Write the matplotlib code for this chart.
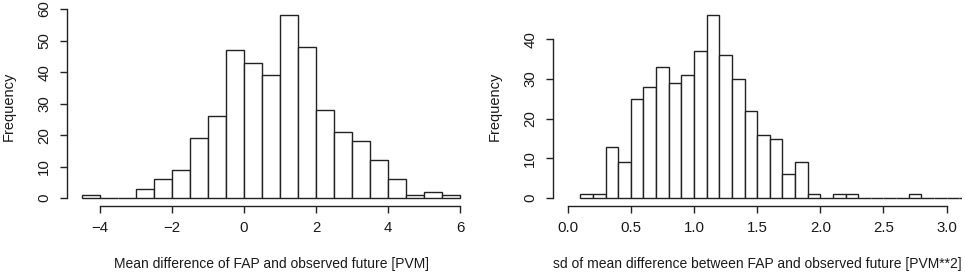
import matplotlib
matplotlib.use("Agg")
import matplotlib.pyplot as plt
import numpy as np

plt.rcParams['font.family'] = ['Liberation Sans', 'DejaVu Sans']

# Left histogram: mean difference, bin width 0.5
mean_edges = np.arange(-4.5, 6.01, 0.5)
mean_counts = [1, 0, 0, 3, 6, 9, 19, 26, 47, 43, 39, 58, 48, 28, 21, 18, 12, 6, 1, 2, 1]
mean_ticks = [-4, -2, 0, 2, 4, 6]
mean_yticks = [0, 10, 20, 30, 40, 50, 60]

# Right histogram: sd of mean difference, bin width 0.1
sd_edges = np.round(np.arange(0.1, 3.21, 0.1), 2)
sd_counts = [1, 1, 13, 9, 25, 28, 33, 29, 31, 37, 46, 36, 30, 22, 16, 15, 6, 9, 1,
             0, 1, 1, 0, 0, 0, 0, 1, 0, 0, 0, 0]
sd_ticks = [0.0, 0.5, 1.0, 1.5, 2.0, 2.5, 3.0]
sd_yticks = [0, 10, 20, 30, 40]

W, H = 965, 274
fig = plt.figure(figsize=(W / 100, H / 100), dpi=100)


def r_hist(px_left, px_right, edges, counts, xlim, ylim, xticks, yticks, xlabels, xlabel):
    top, bottom = 8.0, 205.5
    ax = fig.add_axes([px_left / W, 1 - bottom / H, (px_right - px_left) / W, (bottom - top) / H])
    ax.hist(edges[:-1], bins=edges, weights=counts, facecolor='white',
            edgecolor='#222222', linewidth=1.0)
    ax.set_xlim(*xlim)
    ax.set_ylim(*ylim)
    for s in ['top', 'right']:
        ax.spines[s].set_visible(False)
    ax.spines['bottom'].set_bounds(xticks[0], xticks[-1])
    ax.spines['left'].set_bounds(yticks[0], yticks[-1])
    for s in ['bottom', 'left']:
        ax.spines[s].set_color('#222222')
        ax.spines[s].set_linewidth(1.0)
    ax.set_xticks(xticks)
    ax.set_xticklabels(xlabels)
    ax.set_yticks(yticks)
    ax.set_yticklabels([str(v) for v in yticks], rotation=90, va='center')
    ax.tick_params(direction='out', length=5, width=1.0, color='#222222',
                   labelsize=10.8, labelcolor='#1a1a1a')
    ax.tick_params(axis='x', pad=6.5)
    ax.tick_params(axis='y', pad=6)
    ax.set_xlabel(xlabel, fontsize=10, color='#1a1a1a', va='center')
    ax.set_ylabel('Frequency', fontsize=10.5, color='#1a1a1a', va='center')
    ax.xaxis.set_label_coords(0.5, -(264 - bottom) / (bottom - top))
    return ax


ax1 = r_hist(66.5, 475.5, mean_edges, mean_counts, (-4.92, 6.42), (-2.32, 60.32),
             mean_ticks, mean_yticks, [str(v).replace('-', '\u2212') for v in mean_ticks],
             'Mean difference of FAP and observed future [PVM]')
ax1.yaxis.set_label_coords(-(66.5 - 8.5) / 409, 0.5)

ax2 = r_hist(552.5, 961.8, sd_edges, sd_counts, (-0.12, 3.12), (-1.84, 47.84),
             sd_ticks, sd_yticks, ['%.1f' % v for v in sd_ticks],
             'sd of mean difference between FAP and observed future [PVM**2]')
ax2.yaxis.set_label_coords(-(552.5 - 495) / 409.3, 0.5)

fig.savefig('out.png', dpi=100)
